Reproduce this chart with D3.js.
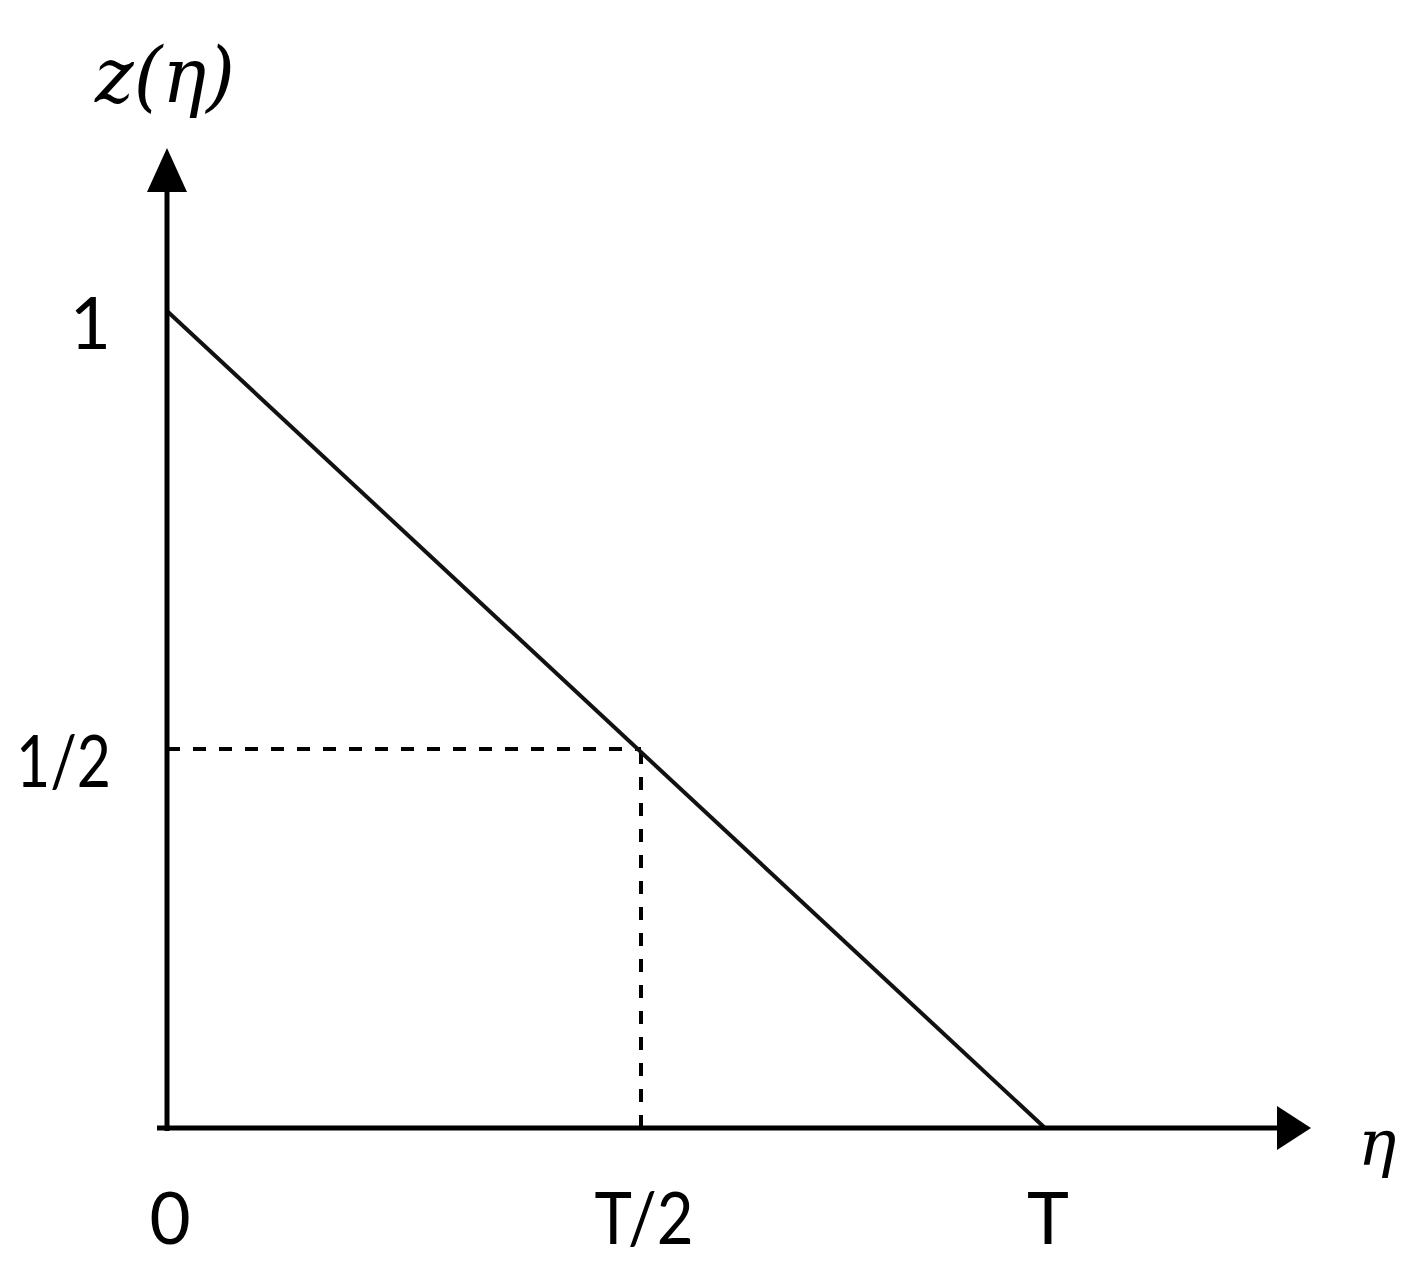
<!DOCTYPE html>
<html>
<head>
<meta charset="utf-8">
<script src="https://cdn.jsdelivr.net/npm/d3@7"></script>
<style>
  html, body { margin: 0; padding: 0; background: #fff; }
  svg { display: block; }
</style>
</head>
<body>
<svg id="chart" width="1419" height="1283"></svg>
<script>
// ---- data ----
const xTickValues = [0, 0.5, 1];
const xTickLabels = ["0", "T/2", "T"];
const yTickValues = [0.5, 1];
const yTickLabels = ["1/2", "1"];
const lineEta = [0, 1];        // η as fraction of T
const lineZ = [1, 0];          // z(η)
const markEta = [0.5];         // dashed guide point
const markZ = [0.5];
const xAxisEnd = 1.27;         // axis extent (in units of T) up to arrow base
const yAxisEnd = 1.145;        // axis extent up to arrow base
const xAxisLabel = "η";
const yAxisLabel = "z(η)";

const svg = d3.select("#chart");

// piecewise scales matching the sketch's proportions
const x = d3.scaleLinear().domain([0, 0.5, 1, xAxisEnd]).range([167, 641, 1045, 1277]);
const y = d3.scaleLinear().domain([0, 0.5, 1, yAxisEnd]).range([1128, 749, 311, 192]);

const labelFont = "Lato, 'Open Sans', sans-serif";
const mathFont = "'DejaVu Serif', serif";

// dashed guides
markEta.forEach((e, i) => {
  const z = markZ[i];
  svg.append("line")
    .attr("x1", x(0)).attr("x2", x(e))
    .attr("y1", y(z)).attr("y2", y(z))
    .attr("stroke", "#000").attr("stroke-width", 4)
    .attr("stroke-dasharray", "13,13");
  svg.append("line")
    .attr("x1", x(e)).attr("x2", x(e))
    .attr("y1", y(0)).attr("y2", y(z))
    .attr("stroke", "#000").attr("stroke-width", 4)
    .attr("stroke-dasharray", "13,13");
});

// main line
const pts = lineEta.map((e, i) => [e, lineZ[i]]);
svg.append("path")
  .datum(pts)
  .attr("fill", "none")
  .attr("stroke", "#111")
  .attr("stroke-width", 4)
  .attr("d", d3.line().x(d => x(d[0])).y(d => y(d[1])));

// axes lines
svg.append("line")
  .attr("x1", x(0) - 10).attr("x2", x(xAxisEnd))
  .attr("y1", y(0)).attr("y2", y(0))
  .attr("stroke", "#000").attr("stroke-width", 5);
svg.append("line")
  .attr("x1", x(0)).attr("x2", x(0))
  .attr("y1", y(0) + 3).attr("y2", y(yAxisEnd))
  .attr("stroke", "#000").attr("stroke-width", 5);

// arrowheads
const ax = x(xAxisEnd), ay = y(0);
svg.append("path")
  .attr("d", `M${ax},${ay - 22} L${ax + 34},${ay} L${ax},${ay + 22} Z`)
  .attr("fill", "#000");
const bx = x(0), by = y(yAxisEnd);
svg.append("path")
  .attr("d", `M${bx - 20},${by} L${bx},${by - 44} L${bx + 20},${by} Z`)
  .attr("fill", "#000");

// x tick labels
svg.selectAll("text.xl")
  .data(xTickValues)
  .join("text")
  .attr("class", "xl")
  .attr("x", d => x(d) + 3)
  .attr("y", y(0) + 116)
  .attr("text-anchor", "middle")
  .attr("font-family", labelFont)
  .attr("font-size", 71)
  .attr("fill", "#000")
  .each(function (d, i) {
    const s = d3.select(this).text(xTickLabels[i]);
    if (xTickLabels[i].length > 1) s.attr("textLength", 99).attr("lengthAdjust", "spacingAndGlyphs");
  });

// y tick labels
svg.selectAll("text.yl")
  .data(yTickValues)
  .join("text")
  .attr("class", "yl")
  .attr("x", 111)
  .attr("y", d => y(d) + 38)
  .attr("text-anchor", "end")
  .attr("font-family", labelFont)
  .attr("font-size", 71)
  .attr("fill", "#000")
  .each(function (d, i) {
    const s = d3.select(this).text(yTickLabels[i]);
    if (yTickLabels[i].length > 1) s.attr("textLength", 95).attr("lengthAdjust", "spacingAndGlyphs");
  });

// axis titles
svg.append("text")
  .attr("x", 95)
  .attr("y", 102)
  .attr("font-family", mathFont)
  .attr("font-style", "italic")
  .attr("font-size", 76)
  .attr("fill", "#000")
  .attr("textLength", 140)
  .attr("lengthAdjust", "spacingAndGlyphs")
  .text(yAxisLabel);

svg.append("text")
  .attr("x", 1358)
  .attr("y", 1165)
  .attr("font-family", mathFont)
  .attr("font-style", "italic")
  .attr("font-size", 64)
  .attr("fill", "#000")
  .text(xAxisLabel);
</script>
</body>
</html>
